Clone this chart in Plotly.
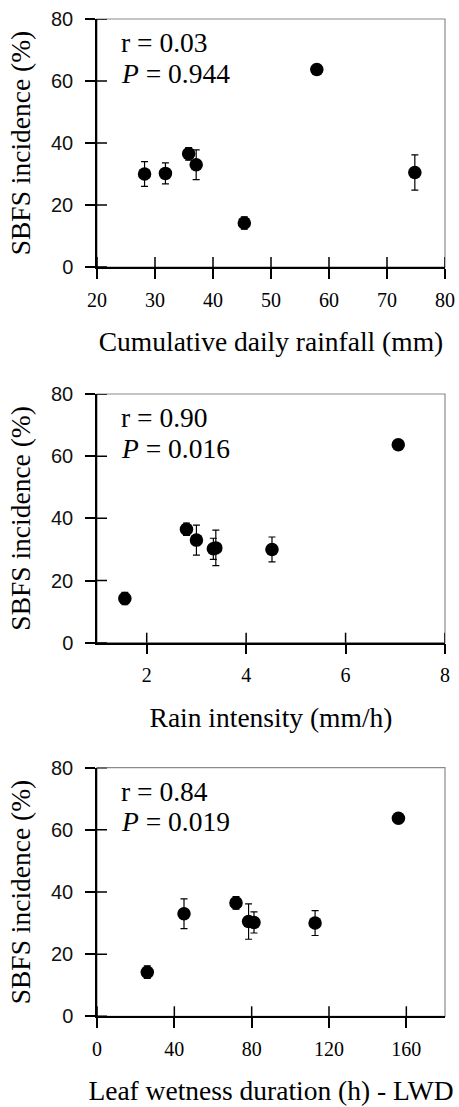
import plotly.graph_objects as go

# ---- data ----
incidence = [30.0, 30.2, 36.5, 33.0, 14.2, 63.7, 30.5]
incidence_err = [4.0, 3.4, 2.0, 4.8, 2.0, 0.0, 5.7]
rainfall = [28.2, 31.8, 35.8, 37.1, 45.4, 57.9, 74.8]
intensity = [4.52, 3.34, 2.80, 3.00, 1.56, 7.06, 3.39]
lwd = [112.8, 81.2, 71.9, 45.0, 26.0, 155.9, 78.4]

y_ticks = [0, 20, 40, 60, 80]
rain_ticks = [20, 30, 40, 50, 60, 70, 80]
int_ticks = [2, 4, 6, 8]
lwd_ticks = [0, 40, 80, 120, 160]

stats_r = ["r = 0.03", "r = 0.90", "r = 0.84"]
stats_p = ["0.944", "0.016", "0.019"]
x_titles = ["Cumulative daily rainfall (mm)", "Rain intensity (mm/h)",
            "Leaf wetness duration (h) - LWD"]
y_title = "SBFS incidence (%)"

SERIF = "Liberation Serif"
SANS = "Liberation Sans"

W, H = 459, 1107
x_dom = [97 / W, 445 / W]
y_doms = [[1 - 267 / H, 1 - 19 / H],
          [1 - 642.7 / H, 1 - 394 / H],
          [1 - 1016.3 / H, 1 - 767.7 / H]]
TICK_IN = 10  # px length of the inner half of the crossing ticks

panels = [
    (rainfall, [20, 80], rain_ticks),
    (intensity, [1, 8], int_ticks),
    (lwd, [0, 180], lwd_ticks),
]

fig = go.Figure()
layout = {}
shapes = []
annotations = []
plot_w = (x_dom[1] - x_dom[0]) * W

for i, (xv, xr, xt) in enumerate(panels):
    n = i + 1
    xa = "x" if n == 1 else f"x{n}"
    ya = "y" if n == 1 else f"y{n}"
    xk = "xaxis" if n == 1 else f"xaxis{n}"
    yk = "yaxis" if n == 1 else f"yaxis{n}"
    plot_h = (y_doms[i][1] - y_doms[i][0]) * H
    fig.add_trace(go.Scatter(
        x=xv, y=incidence, mode="markers", xaxis=xa, yaxis=ya,
        marker=dict(size=13.5, color="black"),
        error_y=dict(type="data", array=incidence_err, visible=True,
                     color="black", thickness=1.2, width=3.5),
        showlegend=False, cliponaxis=False,
    ))
    layout[xk] = dict(
        domain=x_dom, range=xr, anchor=ya, tickvals=xt, automargin=False,
        ticks="outside", ticklen=10, tickwidth=1.5, tickcolor="black",
        showline=True, linecolor="black", linewidth=1.5,
        showgrid=False, zeroline=False,
        tickfont=dict(family=SERIF, size=20, color="black"),
        ticklabelstandoff=4,
        title=dict(text=x_titles[i], font=dict(family=SERIF, size=27.5, color="black"),
                   standoff=22),
    )
    layout[yk] = dict(
        domain=y_doms[i], range=[0, 80], anchor=xa, tickvals=y_ticks, automargin=False,
        ticks="outside", ticklen=10, tickwidth=1.5, tickcolor="black",
        showline=True, linecolor="black", linewidth=1.5,
        showgrid=False, zeroline=False,
        tickfont=dict(family=SANS, size=20, color="#111"),
        ticklabelstandoff=8,
        title=dict(text=y_title, font=dict(family=SERIF, size=27.5, color="black"),
                   standoff=12),
    )
    # light frame on top / right
    shapes.append(dict(type="rect", xref=f"{xa} domain", yref=f"{ya} domain",
                       x0=0, x1=1, y0=0, y1=1, layer="below",
                       line=dict(color="#8a8a8a", width=1.2)))
    # inner halves of the crossing ticks
    for t in xt:
        shapes.append(dict(type="line", xref=xa, yref=f"{ya} domain",
                           x0=t, x1=t, y0=0, y1=TICK_IN / plot_h, layer="above",
                           line=dict(color="black", width=1.5)))
    for t in y_ticks:
        shapes.append(dict(type="line", xref=f"{xa} domain", yref=ya,
                           x0=0, x1=TICK_IN / plot_w, y0=t, y1=t, layer="above",
                           line=dict(color="black", width=1.5)))
    annotations.append(dict(xref=f"{xa} domain", yref=f"{ya} domain",
                            x=0.063, y=0.905, xanchor="left", yanchor="middle",
                            text=stats_r[i], showarrow=False,
                            font=dict(family=SERIF, size=27.5, color="black")))
    annotations.append(dict(xref=f"{xa} domain", yref=f"{ya} domain",
                            x=0.063, y=0.782, xanchor="left", yanchor="middle",
                            text=f"<i>P</i> = {stats_p[i]}", showarrow=False,
                            font=dict(family=SERIF, size=27.5, color="black")))

fig.update_layout(
    **layout,
    width=W, height=H,
    margin=dict(l=0, r=0, t=0, b=0),
    paper_bgcolor="white", plot_bgcolor="white",
    shapes=shapes, annotations=annotations,
)

fig.write_html(
    "out.html",
    config={"displayModeBar": False},
    post_script="document.body.style.margin='0';document.body.style.overflow='hidden';",
)
